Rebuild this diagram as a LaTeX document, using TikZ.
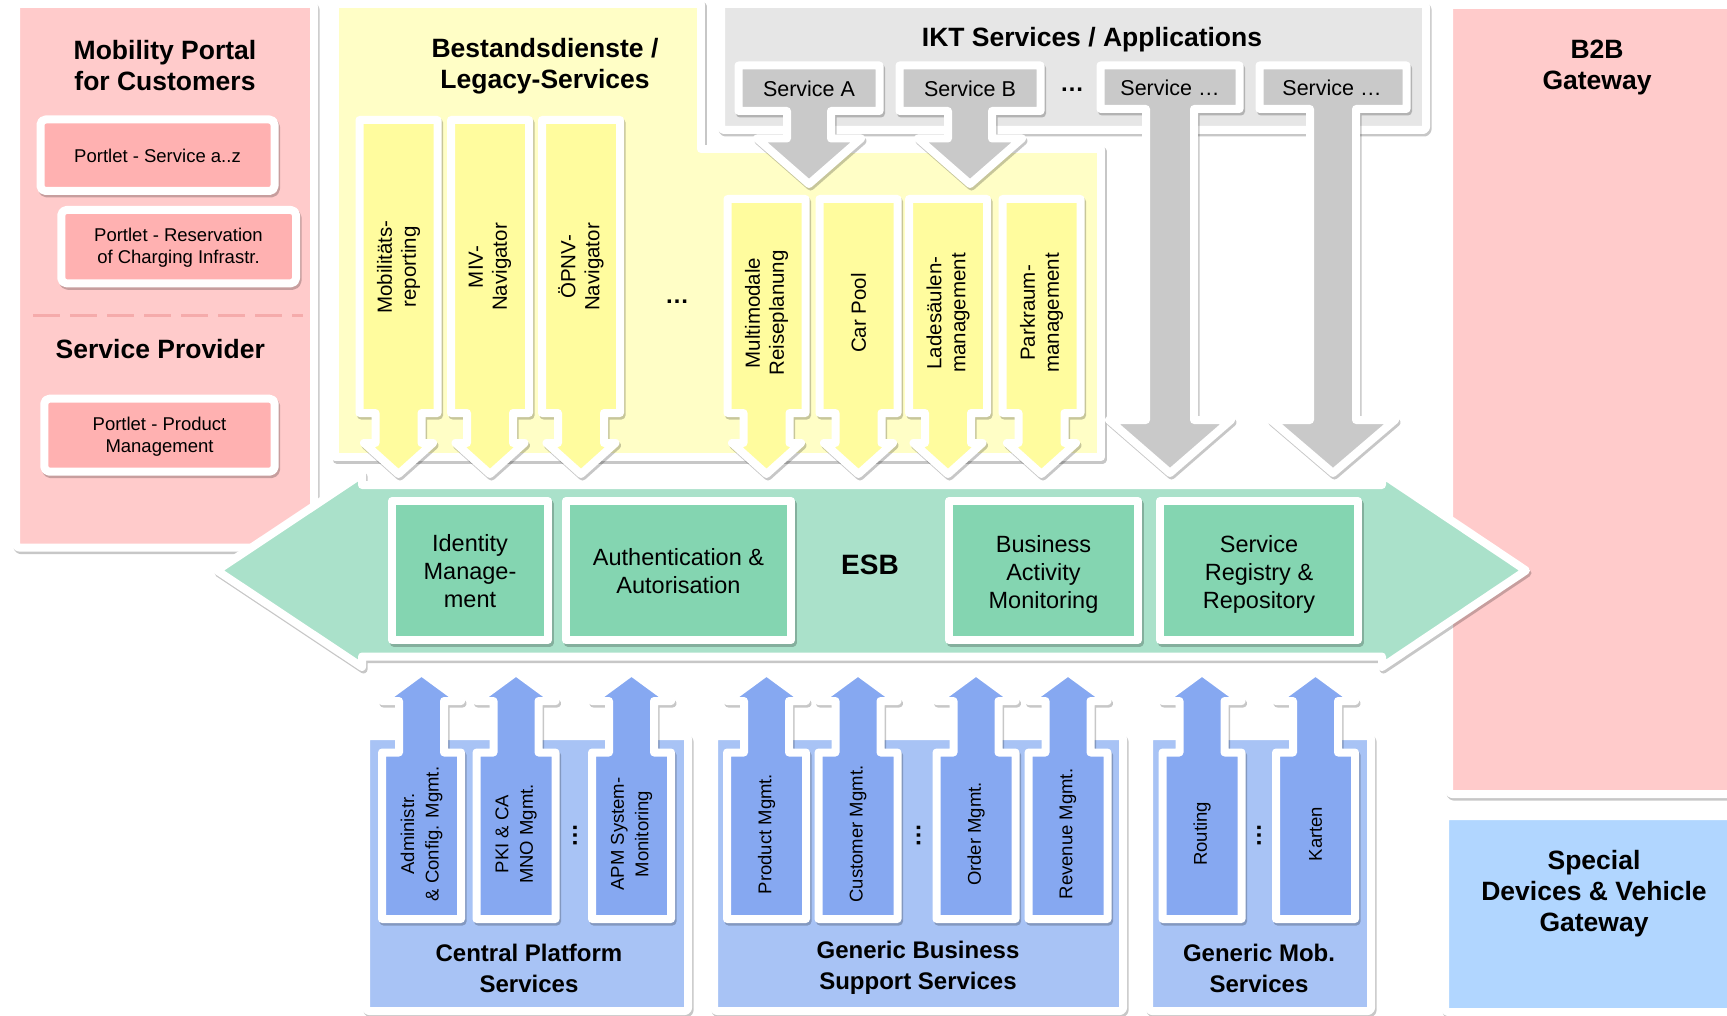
\documentclass[tikz,border=0pt]{standalone}
\usepackage{fontspec}
\setmainfont{Liberation Sans}
\usetikzlibrary{shadows}
\definecolor{pinkbg}{HTML}{FFCBCB}
\definecolor{pinkbox}{HTML}{FFB1B1}
\definecolor{pinkdash}{HTML}{F5ABAB}
\definecolor{yelbg}{HTML}{FFFEC6}
\definecolor{yelarr}{HTML}{FFFC9E}
\definecolor{graybg}{HTML}{E6E6E6}
\definecolor{grayarr}{HTML}{C9C9C9}
\definecolor{esbbg}{HTML}{AAE1CA}
\definecolor{esbbox}{HTML}{84D5B1}
\definecolor{bluebg}{HTML}{A8C3F5}
\definecolor{bluearr}{HTML}{86A8F1}
\definecolor{specbg}{HTML}{B1D6FF}
\newcommand\setfs[2]{\fontsize{#1}{#2}\selectfont}
\newcommand\callout[9]{\path[#9] ({#1-#3},#2) -- ({#1+#3},#2) -- ({#1+#3},#4) -- ({#1+#5},#4) -- ({#1+#5},#6) -- ({#1+#7},#6) -- (#1,#8) -- ({#1-#7},#6) -- ({#1-#5},#6) -- ({#1-#5},#4) -- ({#1-#3},#4) -- cycle;}
\tikzset{
  panel/.style={draw=white, line width=8pt, line join=round,
    drop shadow={shadow xshift=1.5pt, shadow yshift=-2.5pt, opacity=0.22, fill=black, draw=black, line width=8pt, line join=round}},
  rpanel/.style={panel, rounded corners=3pt},
  portletbox/.style={panel, rounded corners=5pt, fill=pinkbox},
  yarrow/.style={panel, fill=yelarr},
  garrow/.style={panel, fill=grayarr},
  barrow/.style={panel, fill=bluearr},
  title/.style={font=\setfs{26.5}{31}\bfseries, align=center, inner sep=0pt},
  btitle/.style={font=\setfs{24}{31}\bfseries, align=center, inner sep=0pt},
  portlet/.style={font=\setfs{18.5}{22}, align=center, inner sep=0pt},
  svc/.style={font=\setfs{21.5}{25}, inner sep=0pt},
  vtxt/.style={rotate=90, font=\setfs{20.5}{24}, align=center, inner sep=0pt},
  btxt/.style={rotate=90, font=\setfs{18.5}{24.5}, align=center, inner sep=0pt},
  gtxt/.style={font=\setfs{23.5}{28.3}, align=center, inner sep=0pt},
  dotsb/.style={font=\setfs{24}{28}\bfseries, inner sep=0pt},
}
\begin{document}
\begin{tikzpicture}[x=1pt,y=-1pt]
\useasboundingbox (0,0) rectangle (1727,1016);
% ---------- left pink panel
\path[rpanel, fill=pinkbg] (16,4) rectangle (314,547.5);
\node[title] (mp) at (165,65.5) {Mobility Portal\\for Customers};
\path[portletbox] (40.5,119.5) rectangle (274.5,191);
\node[portlet] (p1) at (157.5,155.5) {Portlet - Service a..z};
\path[portletbox] (61.3,210) rectangle (296,283.3);
\node[portlet] (p2) at (178.5,248) {Portlet - Reservation\\of Charging Infrastr.};
\draw[pinkdash, line width=3pt, dash pattern=on 27pt off 10pt] (33,315.7) -- (303,315.7);
\node[title] (sp) at (160.3,349.3) {Service Provider};
\path[portletbox] (44.3,398.7) rectangle (274.7,471.7);
\node[portlet] (p3) at (159.5,436.5) {Portlet - Product\\Management};
% ---------- yellow legacy panel
\path[panel, fill=yelbg] (335,4) -- (701,4) -- (701,149) -- (1101,149) -- (1101,457) -- (335,457) -- cycle;
\node[title] (bd) at (545,66) {Bestandsdienste /\\Legacy-Services};
% ---------- gray IKT panel
\path[rpanel, fill=graybg] (721,4) rectangle (1426,130);
\node[title] (ikt) at (1092,40) {IKT Services / Applications};
% ---------- B2B and special panels
\path[rpanel, fill=pinkbg] (1449,5) rectangle (1735,794);
\node[title] (b2b) at (1597,68) {B2B\\Gateway};
\path[rpanel, fill=specbg] (1445,816) rectangle (1735,1012);
\node[title] (sd) at (1594,894) {Special\\Devices \& Vehicle\\Gateway};
% ---------- blue panels
\path[rpanel, fill=bluebg] (366,736) rectangle (688,1011);
\path[rpanel, fill=bluebg] (714,736) rectangle (1123,1011);
\path[rpanel, fill=bluebg] (1149,736) rectangle (1371,1011);
\node[btitle] (cps) at (529,968) {Central Platform\\Services};
\node[btitle] (gbs) at (918,968) {Generic Business\\Support Services};
\node[btitle] (gms) at (1259,968) {Generic Mob.\\Services};
% ---------- yellow arrows
\callout{398.5}{120}{39}{413}{23}{443}{34.5}{474}{yarrow}
\callout{490}{120}{39}{413}{23}{443}{34.5}{474}{yarrow}
\callout{581}{120}{39}{413}{23}{443}{34.5}{474}{yarrow}
\callout{766.5}{199}{39}{413}{23}{443}{34.5}{474}{yarrow}
\callout{858.5}{199}{39}{413}{23}{443}{34.5}{474}{yarrow}
\callout{948}{199}{39}{413}{23}{443}{34.5}{474}{yarrow}
\callout{1041.5}{199}{39}{413}{23}{443}{34.5}{474}{yarrow}
\node[vtxt] (y1) at (398.5,267) {Mobilitäts-\\reporting};
\node[vtxt] (y2) at (490,267) {MIV-\\Navigator};
\node[vtxt] (y3) at (581,267) {ÖPNV-\\Navigator};
\node[dotsb] (ydots) at (677,302) {…};
\node[vtxt] (y4) at (766.5,313) {Multimodale\\Reiseplanung};
\node[vtxt] (y5) at (858.5,313) {Car Pool};
\node[vtxt] (y6) at (948,313) {Ladesäulen-\\management};
\node[vtxt] (y7) at (1041.5,313) {Parkraum-\\management};
% ---------- gray service callouts
\callout{809}{65.5}{70.5}{111}{22}{138.5}{52}{184}{garrow}
\callout{970}{65.5}{70.5}{111}{22}{138.5}{52}{184}{garrow}
\callout{1170}{65.5}{69.5}{109}{24}{420}{61}{473}{garrow}
\callout{1333}{65.5}{73.5}{109}{23}{420}{62}{473}{garrow}
\node[svc] (sa) at (809,89) {Service A};
\node[svc] (sb) at (970,89) {Service B};
\node[svc] (sc) at (1170,88) {Service …};
\node[svc] (sdd) at (1332,88) {Service …};
\node[dotsb] (gdots) at (1072,90) {…};
% ---------- ESB
\path[panel, fill=esbbg] (217,570.5) -- (362,474) -- (362,485) -- (1382,485) -- (1382,474) -- (1526,570.5) -- (1382,667) -- (1382,656.5) -- (362,656.5) -- (362,667) -- cycle;
\path[panel, fill=esbbox] (392,501) rectangle (548,640);
\path[panel, fill=esbbox] (566,501) rectangle (791,640);
\path[panel, fill=esbbox] (949,501) rectangle (1138,640);
\path[panel, fill=esbbox] (1160,501) rectangle (1358,640);
\node[gtxt] (idm) at (470,571) {Identity\\Manage-\\ment};
\node[gtxt] (auth) at (678.5,571) {Authentication \&\\Autorisation};
\node[font=\setfs{28}{32}\bfseries, inner sep=0pt] (esb) at (870,565) {ESB};
\node[gtxt] (bam) at (1043.5,574.5) {Business\\Activity\\Monitoring};
\node[gtxt] (srr) at (1259,574.5) {Service\\Registry \&\\Repository};
% ---------- blue up arrows
\callout{421.5}{919}{39.5}{752.5}{22.5}{701}{39.5}{672}{barrow}
\callout{516}{919}{39.5}{752.5}{22.5}{701}{39.5}{672}{barrow}
\callout{631.5}{919}{39.5}{752.5}{22.5}{701}{39.5}{672}{barrow}
\callout{766.5}{919}{39.5}{752.5}{22.5}{701}{39.5}{672}{barrow}
\callout{858}{919}{39.5}{752.5}{22.5}{701}{39.5}{672}{barrow}
\callout{976}{919}{39.5}{752.5}{22.5}{701}{39.5}{672}{barrow}
\callout{1068}{919}{39.5}{752.5}{22.5}{701}{39.5}{672}{barrow}
\callout{1202}{919}{39.5}{752.5}{22.5}{701}{39.5}{672}{barrow}
\callout{1315.5}{919}{39.5}{752.5}{22.5}{701}{39.5}{672}{barrow}
\node[btxt] (b1) at (421.5,834) {Administr.\\\& Config. Mgmt.};
\node[btxt] (b2) at (516,834) {PKI \& CA\\MNO Mgmt.};
\node[btxt] (b3) at (631.5,834) {APM System-\\Monitoring};
\node[btxt] (b4) at (766.5,834) {Product Mgmt.};
\node[btxt] (b5) at (858,834) {Customer Mgmt.};
\node[btxt] (b6) at (976,834) {Order Mgmt.};
\node[btxt] (b7) at (1068,834) {Revenue Mgmt.};
\node[btxt] (b8) at (1202,834) {Routing};
\node[btxt] (b9) at (1315.5,834) {Karten};
\node[dotsb, rotate=90] (bd1) at (575,835) {…};
\node[dotsb, rotate=90] (bd2) at (918.5,835) {…};
\node[dotsb, rotate=90] (bd3) at (1259,835) {…};
\end{tikzpicture}
\end{document}
